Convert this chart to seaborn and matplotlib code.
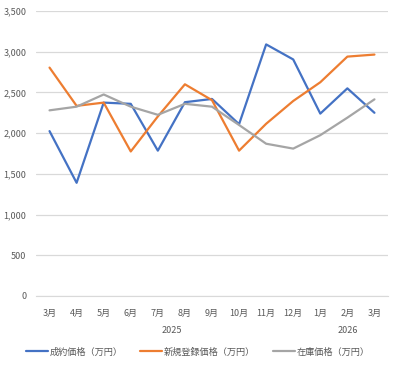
import pandas as pd
import seaborn as sns
import matplotlib.pyplot as plt

# Monthly price data (万円)
months = ['3月', '4月', '5月', '6月', '7月', '8月', '9月', '10月', '11月', '12月', '1月', '2月', '3月']
years = [2025] * 10 + [2026] * 3
contract = [2025, 1390, 2375, 2360, 1785, 2380, 2420, 2110, 3090, 2905, 2240, 2550, 2250]
new_listing = [2805, 2335, 2375, 1775, 2205, 2600, 2405, 1785, 2115, 2395, 2625, 2940, 2965]
stock = [2280, 2325, 2475, 2325, 2225, 2360, 2325, 2100, 1870, 1810, 1975, 2190, 2415]

series_names = ['成約価格（万円）', '新規登録価格（万円）', '在庫価格（万円）']
colors = ['#4472C4', '#ED7D31', '#A5A5A5']

df = pd.DataFrame({
    'idx': list(range(len(months))) * 3,
    'value': contract + new_listing + stock,
    'series': [series_names[0]] * len(months) + [series_names[1]] * len(months) + [series_names[2]] * len(months),
})

sns.set_style('white')
plt.rcParams['font.family'] = ['Noto Sans CJK JP', 'DejaVu Sans']

fig = plt.figure(figsize=(3.99, 3.67), dpi=100)
ax = fig.add_axes([0.0902, 0.1935, 0.8822, 0.7765])

sns.lineplot(data=df, x='idx', y='value', hue='series', palette=colors,
             linewidth=1.6, ax=ax, legend=True)

ax.set_xlim(-0.5, len(months) - 0.5)
ax.set_ylim(0, 3500)
ax.set_yticks(range(0, 3501, 500))
ax.set_yticklabels([f'{v:,}' for v in range(0, 3501, 500)], fontsize=6.5, color='#595959')
ax.set_xticks(range(len(months)))
ax.set_xticklabels(months, fontsize=6.5, color='#595959')
ax.tick_params(axis='both', length=0)
ax.tick_params(axis='x', pad=9)
ax.tick_params(axis='y', pad=7)
ax.grid(axis='y', color='#D9D9D9', linewidth=0.9)
ax.set_axisbelow(True)
for s in ['top', 'right', 'left']:
    ax.spines[s].set_visible(False)
ax.spines['bottom'].set_color('#D9D9D9')
ax.set_xlabel('')
ax.set_ylabel('')

# year group labels under the month ticks
for yr in sorted(set(years)):
    pos = [i for i, y in enumerate(years) if y == yr]
    center = (pos[0] + pos[-1]) / 2
    ax.text(center, -0.12, str(yr), transform=ax.get_xaxis_transform(),
            ha='center', va='center', fontsize=6.5, color='#595959')

handles, labels = ax.get_legend_handles_labels()
ax.get_legend().remove()
fig.legend(handles, labels, loc='center', bbox_to_anchor=(0.496, 0.041), ncol=3,
           frameon=False, fontsize=6.6, handlelength=2.4, columnspacing=1.9,
           handletextpad=0.2, labelcolor='#595959')

plt.savefig('out.png', dpi=100)
